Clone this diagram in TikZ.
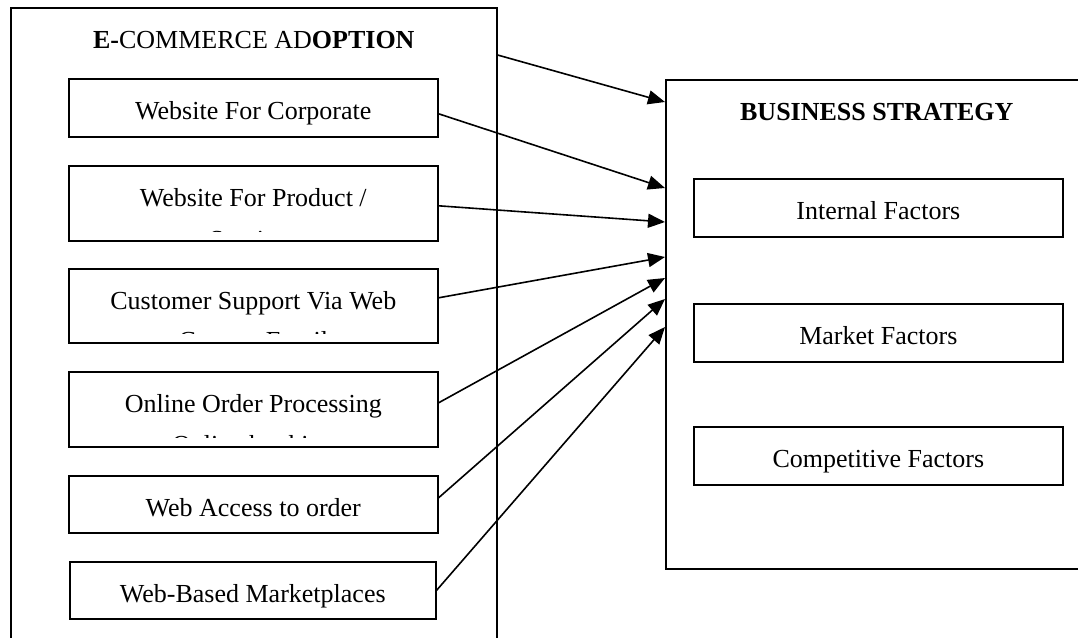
\documentclass[tikz,border=0pt]{standalone}
\usepackage{fontspec}
\setmainfont{Liberation Serif}
\usetikzlibrary{arrows.meta}

\begin{document}
\begin{tikzpicture}
  [x=1pt, y=-1pt, line width=1.6pt,
   every node/.style={font=\fontsize{26}{30}\selectfont},
   frame/.style={draw, anchor=north west, inner ysep=0pt, text height=41pt},
   inbox/.style={frame, minimum width=369pt},
   arr/.style={-{Triangle[length=17pt,width=14pt]}}]
  \useasboundingbox (0,0) rectangle (1078,637);

  % the two large frames
  \node [frame, minimum width=486pt, text depth=639pt] (ecom) at (10,7)
    {\textbf{E-}COMMERCE AD\textbf{OPTION}};
  \node [frame, minimum width=422pt, text depth=448pt] (strat) at (665,79)
    {\textbf{BUSINESS STRATEGY}};

  % adoption boxes
  \node [inbox, text depth=17pt] (web1) at (68,78) {Website For Corporate};
  \node [inbox, text depth=34pt] (web2) at (68,165) {Website For Product /};
  \node [inbox, text depth=33pt] (web3) at (68,268) {Customer Support Via Web};
  \node [inbox, text depth=34pt] (web4) at (68,371) {Online Order Processing};
  \node [inbox, text depth=16pt] (web5) at (68,475) {Web Access to order};
  \node [inbox, text depth=16pt, minimum width=366pt] (web6) at (69,561) {Web-Based Marketplaces};

  % second lines, cut off by the boxes
  \begin{scope}
    \clip ([yshift=10pt]web2.south west) rectangle (web2.north east);
    \node [anchor=base] (web2s) at ([yshift=-42pt]web2.base) {Services};
  \end{scope}
  \begin{scope}
    \clip ([yshift=10pt]web3.south west) rectangle (web3.north east);
    \node [anchor=base] (web3s) at ([yshift=-40pt]web3.base) {Contact Email};
  \end{scope}
  \begin{scope}
    \clip ([yshift=10pt]web4.south west) rectangle (web4.north east);
    \node [anchor=base] (web4s) at ([yshift=-41pt]web4.base) {Online booking};
  \end{scope}

  % strategy boxes
  \node [inbox, text depth=17pt] (fac1) at (693,178) {Internal Factors};
  \node [inbox, text depth=17pt] (fac2) at (693,303) {Market Factors};
  \node [inbox, text depth=17pt] (fac3) at (693,426) {Competitive Factors};

  % adoption to strategy
  \draw [arr] ([yshift=-48pt]ecom.north east) -- ([yshift=-23pt]strat.north west);
  \draw [arr] ([yshift=-6pt]web1.east) -- ([yshift=-109pt]strat.north west);
  \draw [arr] ([yshift=-2.5pt]web2.east) -- ([yshift=-143pt]strat.north west);
  \draw [arr] ([yshift=8pt]web3.east) -- ([yshift=-178pt]strat.north west);
  \draw [arr] ([yshift=6.5pt]web4.east) -- ([yshift=-199pt]strat.north west);
  \draw [arr] ([yshift=6.5pt]web5.east) -- ([yshift=-220pt]strat.north west);
  \draw [arr] (web6.east) -- ([yshift=-248pt]strat.north west);
\end{tikzpicture}
\end{document}
